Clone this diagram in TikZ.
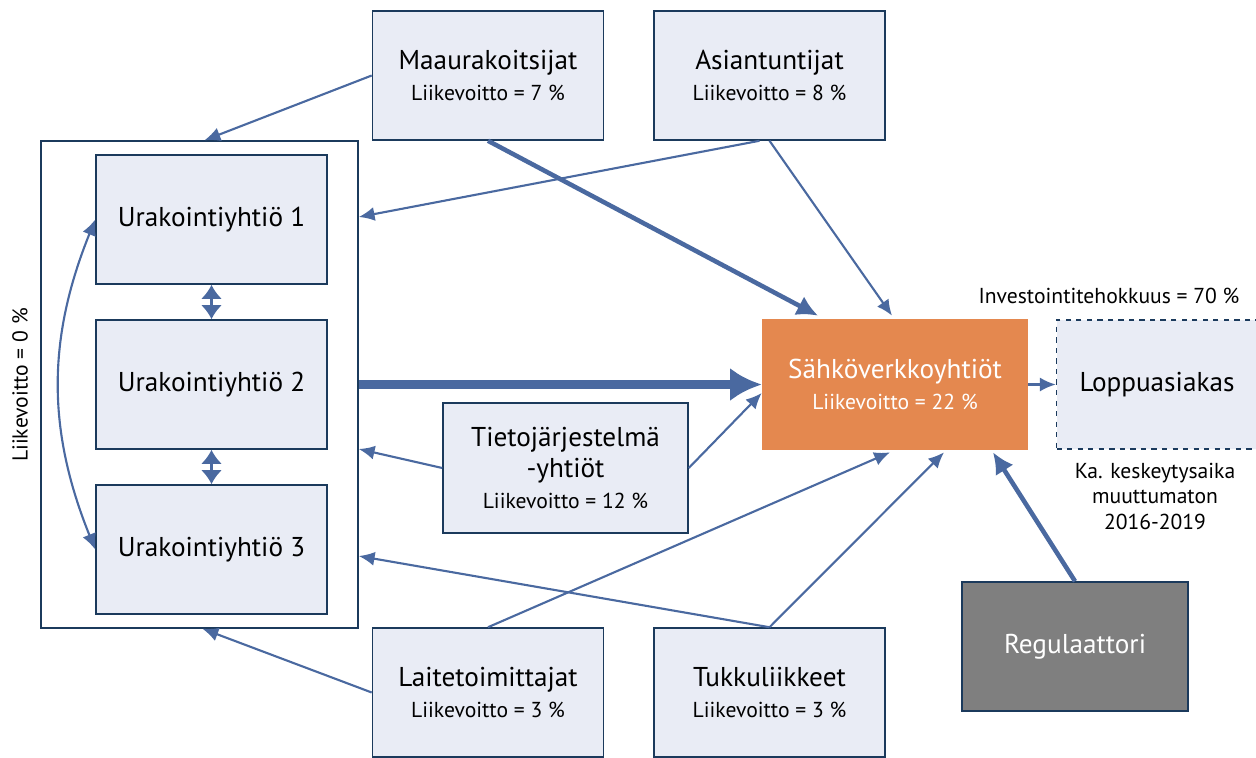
\documentclass[tikz,border=0pt]{standalone}
\usepackage{fontspec}
\setmainfont{PT Sans}
\usetikzlibrary{calc,arrows.meta,positioning}
\definecolor{linkblue}{HTML}{4A69A0}
\definecolor{boxline}{HTML}{1B3A5C}
\definecolor{boxfill}{HTML}{E9ECF5}
\definecolor{gridorange}{HTML}{E4884F}
\definecolor{reggray}{HTML}{7F7F7F}
\newcommand{\titletxt}{\fontsize{15.5}{17.5}\selectfont}
\newcommand{\subtxt}{\fontsize{12.3}{14.5}\selectfont}
\tikzset{
    company/.style={
    rectangle,draw=boxline,fill=boxfill,line width=0.9pt,align=center,
    minimum width=4.62cm,minimum height=2.58cm,font=\titletxt
    },
    groupbox/.style={
    rectangle,draw=boxline,line width=0.9pt,minimum width=6.34cm,minimum height=9.74cm
    },
    gridco/.style={
    rectangle,fill=gridorange,text=white,align=center,
    minimum width=5.32cm,minimum height=2.62cm,font=\titletxt
    },
    customer/.style={
    rectangle,draw=boxline,dashed,fill=boxfill,line width=0.9pt,
    minimum width=4.02cm,minimum height=2.58cm,font=\titletxt
    },
    regbox/.style={
    rectangle,draw=boxline,fill=reggray,text=white,line width=0.9pt,
    minimum width=4.52cm,minimum height=2.58cm,font=\titletxt
    },
    note/.style={
    align=center,font=\subtxt
    },
    link/.style={
    draw=linkblue,line width=1.2pt,-{Latex[length=9pt,width=8pt]}
    },
    heavylink/.style={
    draw=linkblue,line width=2.6pt,-{Latex[length=12pt,width=12pt]}
    },
    mainflow/.style={
    draw=linkblue,line width=5.6pt,-{Latex[length=18pt,width=19pt]}
    },
    peerlink/.style={
    draw=linkblue,line width=1.4pt,{Latex[length=8pt,width=12pt]}-{Latex[length=8pt,width=12pt]}
    },
    bowlink/.style={
    draw=linkblue,line width=1.2pt,{Latex[length=9pt,width=8pt]}-{Latex[length=9pt,width=8pt]}
    },
}

\begin{document}
\begin{tikzpicture}[x=0.02cm, y=-0.02cm]
   \useasboundingbox (0,0) rectangle (1256,757);

   \node[groupbox] (Group) at (199.5,384.5) {};
   \node[company] (Ura1) at (211.5,219.5) {Urakointiyhtiö 1};
   \node[company] (Ura2) at (211.5,384.5) {Urakointiyhtiö 2};
   \node[company] (Ura3) at (211.5,549.5) {Urakointiyhtiö 3};
   \node[note,rotate=90] (GroupProfit) at (20,385) {Liikevoitto = 0 \%};

   \node[company] (Maa) at (488,75.5) {Maaurakoitsijat\\{\subtxt Liikevoitto = 7 \%}};
   \node[company] (Asi) at (769.5,75.5) {Asiantuntijat\\{\subtxt Liikevoitto = 8 \%}};
   \node[company,minimum width=4.9cm,minimum height=2.6cm] (Tieto) at (565.5,468)
        {Tietojärjestelmä\\-yhtiöt\\{\subtxt Liikevoitto = 12 \%}};
   \node[company] (Lai) at (488,692.5) {Laitetoimittajat\\{\subtxt Liikevoitto = 3 \%}};
   \node[company] (Tuk) at (769.5,692.5) {Tukkuliikkeet\\{\subtxt Liikevoitto = 3 \%}};

   \node[gridco] (Sahko) at (895,384.5) {Sähköverkkoyhtiöt\\{\subtxt Liikevoitto = 22 \%}};
   \node[customer] (Loppu) at (1157,384.5) {Loppuasiakas};
   \node[regbox] (Reg) at (1075,646.5) {Regulaattori};

   \node[note] (Invest) at (1109,296) {Investointitehokkuus = 70 \%};
   \node[note] (Outage) at (1155,496) {Ka. keskeytysaika\\muuttumaton\\2016-2019};

   % contractors
   \path (Ura1.south) edge [peerlink] (Ura2.north)
         (Ura2.south) edge [peerlink] (Ura3.north)
         (Ura1.west) edge [bowlink,bend right=22] (Ura3.west);

   % suppliers to contractors and grid companies
   \path (Maa.west) edge [link] ($(Group.north)+(5,0)$)
         (Maa.south) edge [heavylink] ($(Sahko.north)+(-77,-3)$)
         (Asi.south) edge [link] ($(Sahko.north)+(-3,-3)$)
         ($(Asi.south)+(-10,0)$) edge [link] (Group.east |- 0,217)
         (Tieto.west) edge [link] (Group.east |- 0,449)
         (Tieto.east) edge [link] ($(Sahko.west)+(0,8.5)$)
         (Lai.north) edge [link] ($(Sahko.south)+(-5,2)$)
         (Lai.west) edge [link] ($(Group.south)+(3,0)$)
         (Tuk.north) edge [link] (Group.east |- 0,556)
         (Tuk.north) edge [link] ($(Sahko.south)+(49,2)$)
         (Reg.north) edge [heavylink] ($(Sahko.south)+(98,2)$)
         (Sahko.east) edge [link] (Loppu.west);

   \draw[mainflow] (Group.east |- Ura2) -- (Sahko.west);
\end{tikzpicture}
\end{document}
